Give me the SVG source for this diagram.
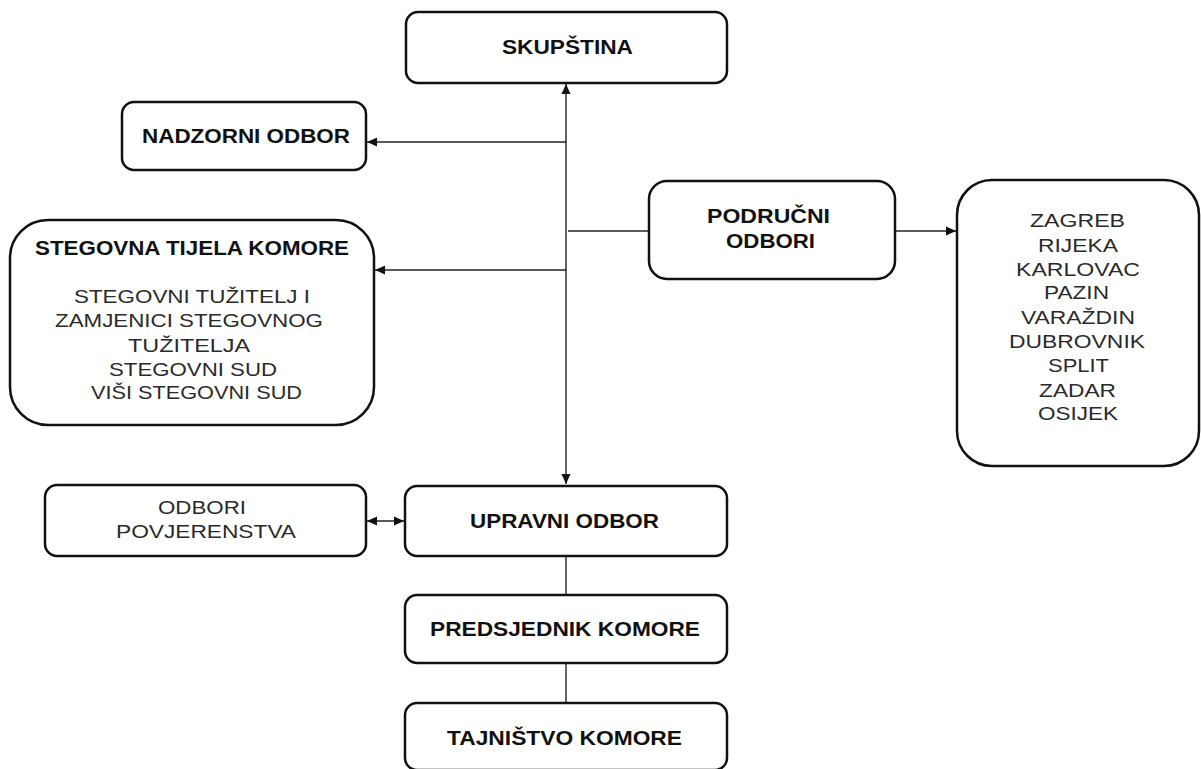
<svg xmlns="http://www.w3.org/2000/svg" width="1201" height="769" viewBox="0 0 1201 769">
<style>
.box{fill:#fff;stroke:#111;stroke-width:2.5}
.con{fill:none;stroke:#222;stroke-width:1.4}
.b{font-family:"Liberation Sans",Arial,sans-serif;font-weight:bold;font-size:20px;fill:#111}
.r{font-family:"Liberation Sans",Arial,sans-serif;font-size:19px;fill:#2a2a2a}
</style>
<defs>
<marker id="ah" viewBox="0 0 10 10" refX="10" refY="5" markerWidth="10" markerHeight="10" markerUnits="userSpaceOnUse" orient="auto-start-reverse">
<path d="M0,0.5 L10,5 L0,9.5 z" fill="#111"/>
</marker>
</defs>
<rect width="1201" height="769" fill="#fff"/>
<g id="connectors">
<line class="con" x1="566" y1="84" x2="566" y2="484" marker-start="url(#ah)" marker-end="url(#ah)"/>
<line class="con" x1="566" y1="142" x2="367" y2="142" marker-end="url(#ah)"/>
<line class="con" x1="566" y1="270" x2="375" y2="270" marker-end="url(#ah)"/>
<line class="con" x1="568" y1="231" x2="649" y2="231"/>
<line class="con" x1="895" y1="231" x2="956" y2="231" marker-end="url(#ah)"/>
<line class="con" x1="367" y1="521" x2="404" y2="521" marker-start="url(#ah)" marker-end="url(#ah)"/>
<line class="con" x1="566" y1="556" x2="566" y2="595"/>
<line class="con" x1="566" y1="663" x2="566" y2="703"/>
</g>
<g id="skupstina">
<rect class="box" x="406" y="12" width="321" height="71" rx="12"/>
<text class="b" x="502" y="54" textLength="131" lengthAdjust="spacingAndGlyphs">SKUPŠTINA</text>
</g>
<g id="nadzorni">
<rect class="box" x="122" y="102" width="244" height="68" rx="12"/>
<text class="b" x="142" y="143" textLength="208" lengthAdjust="spacingAndGlyphs">NADZORNI ODBOR</text>
</g>
<g id="stegovna">
<rect class="box" x="10" y="220" width="364" height="205" rx="38"/>
<text class="b" x="35" y="255" textLength="314" lengthAdjust="spacingAndGlyphs">STEGOVNA TIJELA KOMORE</text>
<text class="r" x="74" y="303" textLength="236" lengthAdjust="spacingAndGlyphs">STEGOVNI TUŽITELJ I</text>
<text class="r" x="55" y="327" textLength="268" lengthAdjust="spacingAndGlyphs">ZAMJENICI STEGOVNOG</text>
<text class="r" x="128" y="352" textLength="122" lengthAdjust="spacingAndGlyphs">TUŽITELJA</text>
<text class="r" x="109" y="376" textLength="168" lengthAdjust="spacingAndGlyphs">STEGOVNI SUD</text>
<text class="r" x="91" y="399" textLength="211" lengthAdjust="spacingAndGlyphs">VIŠI STEGOVNI SUD</text>
</g>
<g id="podrucni">
<rect class="box" x="649" y="181" width="246" height="98" rx="18"/>
<text class="b" x="707" y="223" textLength="123" lengthAdjust="spacingAndGlyphs">PODRUČNI</text>
<text class="b" x="726" y="248" textLength="89" lengthAdjust="spacingAndGlyphs">ODBORI</text>
</g>
<g id="gradovi">
<rect class="box" x="957" y="180" width="242" height="286" rx="35"/>
<text class="r" x="1030" y="227" textLength="95" lengthAdjust="spacingAndGlyphs">ZAGREB</text>
<text class="r" x="1038" y="252" textLength="80" lengthAdjust="spacingAndGlyphs">RIJEKA</text>
<text class="r" x="1016" y="276" textLength="124" lengthAdjust="spacingAndGlyphs">KARLOVAC</text>
<text class="r" x="1044" y="299" textLength="65" lengthAdjust="spacingAndGlyphs">PAZIN</text>
<text class="r" x="1021" y="324" textLength="114" lengthAdjust="spacingAndGlyphs">VARAŽDIN</text>
<text class="r" x="1009" y="348" textLength="136" lengthAdjust="spacingAndGlyphs">DUBROVNIK</text>
<text class="r" x="1048" y="372" textLength="61" lengthAdjust="spacingAndGlyphs">SPLIT</text>
<text class="r" x="1039" y="397" textLength="77" lengthAdjust="spacingAndGlyphs">ZADAR</text>
<text class="r" x="1038" y="420" textLength="80" lengthAdjust="spacingAndGlyphs">OSIJEK</text>
</g>
<g id="povjerenstva">
<rect class="box" x="45" y="485" width="321" height="71" rx="12"/>
<text class="r" x="158" y="514" textLength="88" lengthAdjust="spacingAndGlyphs">ODBORI</text>
<text class="r" x="116" y="538" textLength="180" lengthAdjust="spacingAndGlyphs">POVJERENSTVA</text>
</g>
<g id="upravni">
<rect class="box" x="405" y="486" width="322" height="70" rx="12"/>
<text class="b" x="470" y="528" textLength="189" lengthAdjust="spacingAndGlyphs">UPRAVNI ODBOR</text>
</g>
<g id="predsjednik">
<rect class="box" x="405" y="595" width="322" height="68" rx="12"/>
<text class="b" x="430" y="636" textLength="270" lengthAdjust="spacingAndGlyphs">PREDSJEDNIK KOMORE</text>
</g>
<g id="tajnistvo">
<rect class="box" x="405" y="703" width="322" height="67" rx="12"/>
<text class="b" x="447" y="745" textLength="235" lengthAdjust="spacingAndGlyphs">TAJNIŠTVO KOMORE</text>
</g>
</svg>
